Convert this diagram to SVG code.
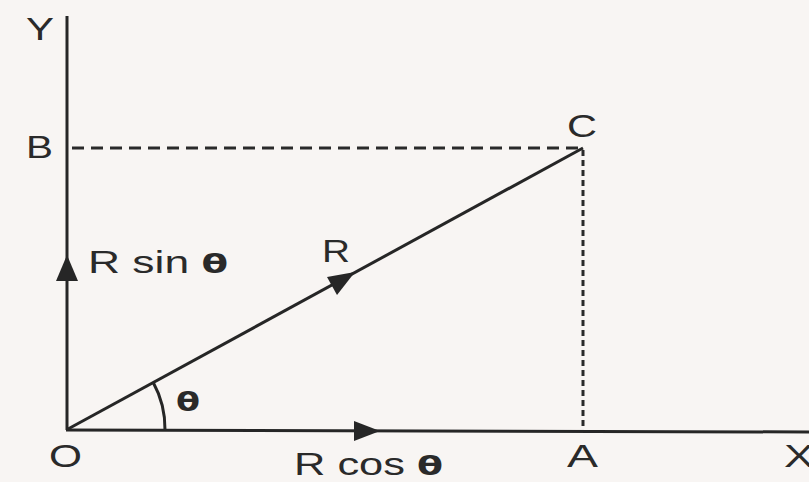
<svg xmlns="http://www.w3.org/2000/svg" width="809" height="482" viewBox="0 0 809 482">
<style>
.ax{stroke:#262626;stroke-width:3;fill:none}
.dash{stroke:#2a2a2a;stroke-width:3;fill:none;stroke-dasharray:12 7}
.dashv{stroke:#2a2a2a;stroke-width:3;fill:none;stroke-dasharray:6 4}
.ah{fill:#262626}
.t{font-family:"Liberation Sans",Arial,sans-serif;font-size:31px;fill:#2a2a2a}
.th{font-family:"DejaVu Sans",sans-serif;font-weight:bold;font-size:27px;fill:#2a2a2a}
</style>
<rect width="809" height="482" fill="#f8f5f3"/>
<g id="connectors">
<line class="ax" x1="67" y1="16" x2="67" y2="430"/>
<line class="ax" x1="66" y1="430" x2="809" y2="432"/>
<line class="ax" x1="68" y1="429" x2="583" y2="148"/>
<line class="dash" x1="72" y1="148" x2="583" y2="148"/>
<line class="dashv" x1="583" y1="150" x2="583" y2="430"/>
<path class="ax" d="M165 430 A97 97 0 0 0 153 382"/>
<polygon class="ah" points="67,255 56,281 78,281"/>
<polygon class="ah" points="380,431 354,421 354,441"/>
<polygon class="ah" points="355,272 327,277 337,295"/>
</g>
<g id="labels">
<text class="t" x="26" y="40" textLength="28" lengthAdjust="spacingAndGlyphs">Y</text>
<text class="t" x="26" y="158" textLength="27" lengthAdjust="spacingAndGlyphs">B</text>
<text class="t" x="567" y="137" textLength="30" lengthAdjust="spacingAndGlyphs">C</text>
<text class="t" x="322" y="262" textLength="28" lengthAdjust="spacingAndGlyphs">R</text>
<text class="t" x="88" y="273" textLength="140" lengthAdjust="spacingAndGlyphs">R sin <tspan class="th">θ</tspan></text>
<text class="th" x="176" y="411" textLength="24" lengthAdjust="spacingAndGlyphs">θ</text>
<text class="t" x="49" y="467" textLength="33" lengthAdjust="spacingAndGlyphs">O</text>
<text class="t" x="567" y="467" textLength="31" lengthAdjust="spacingAndGlyphs">A</text>
<text class="t" x="784" y="467" textLength="30" lengthAdjust="spacingAndGlyphs">X</text>
<text class="t" x="294" y="475" textLength="149" lengthAdjust="spacingAndGlyphs">R cos <tspan class="th">θ</tspan></text>
</g>
</svg>
